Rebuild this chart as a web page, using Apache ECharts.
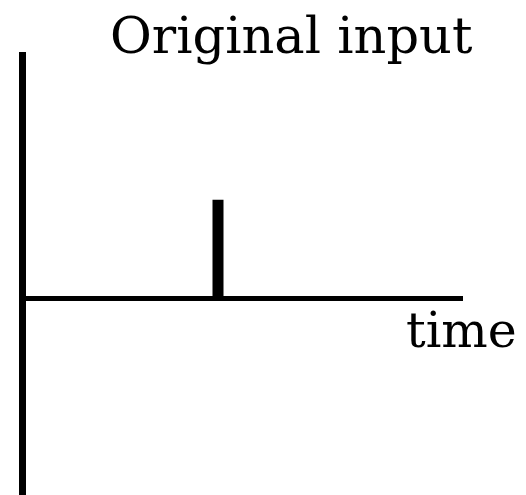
<!DOCTYPE html>
<html>
<head>
<meta charset="utf-8">
<script src="https://cdn.jsdelivr.net/npm/echarts@6/dist/echarts.min.js"></script>
<style>
  html, body { margin: 0; padding: 0; background: #fff; }
  #chart { width: 526px; height: 495px; }
</style>
</head>
<body>
<div id="chart"></div>
<script>
// impulse input: one spike on the time axis
const pulseTime = [4, 4];
const pulseValue = [0, 1];
const titleText = 'Original input';
const axisName = 'time';

const chart = echarts.init(document.getElementById('chart'));

const seriesData = pulseTime.map((t, i) => [t, pulseValue[i]]);

chart.setOption({
  animation: false,
  title: [
    {
      text: titleText,
      left: 105,
      top: 9,
      textStyle: { fontFamily: 'DejaVu Serif', fontWeight: 'normal', fontSize: 51, color: '#000' }
    },
    {
      text: axisName,
      left: 401,
      top: 305,
      textStyle: { fontFamily: 'DejaVu Serif', fontWeight: 'normal', fontSize: 49, color: '#000' }
    }
  ],
  grid: { left: 22, right: 63, top: 52, bottom: 0 },
  xAxis: {
    type: 'value',
    min: 0,
    max: 9,
    axisLine: { show: true, onZero: true, lineStyle: { color: '#000', width: 5, cap: 'butt' } },
    axisTick: { show: false },
    axisLabel: { show: false },
    splitLine: { show: false }
  },
  yAxis: {
    type: 'value',
    min: -2,
    max: 2.5,
    axisLine: { show: true, onZero: true, lineStyle: { color: '#000', width: 7, cap: 'butt' } },
    axisTick: { show: false },
    axisLabel: { show: false },
    splitLine: { show: false }
  },
  series: [
    {
      type: 'line',
      data: seriesData,
      symbol: 'none',
      lineStyle: { color: '#000', width: 11, cap: 'butt' }
    }
  ]
});
</script>
</body>
</html>
